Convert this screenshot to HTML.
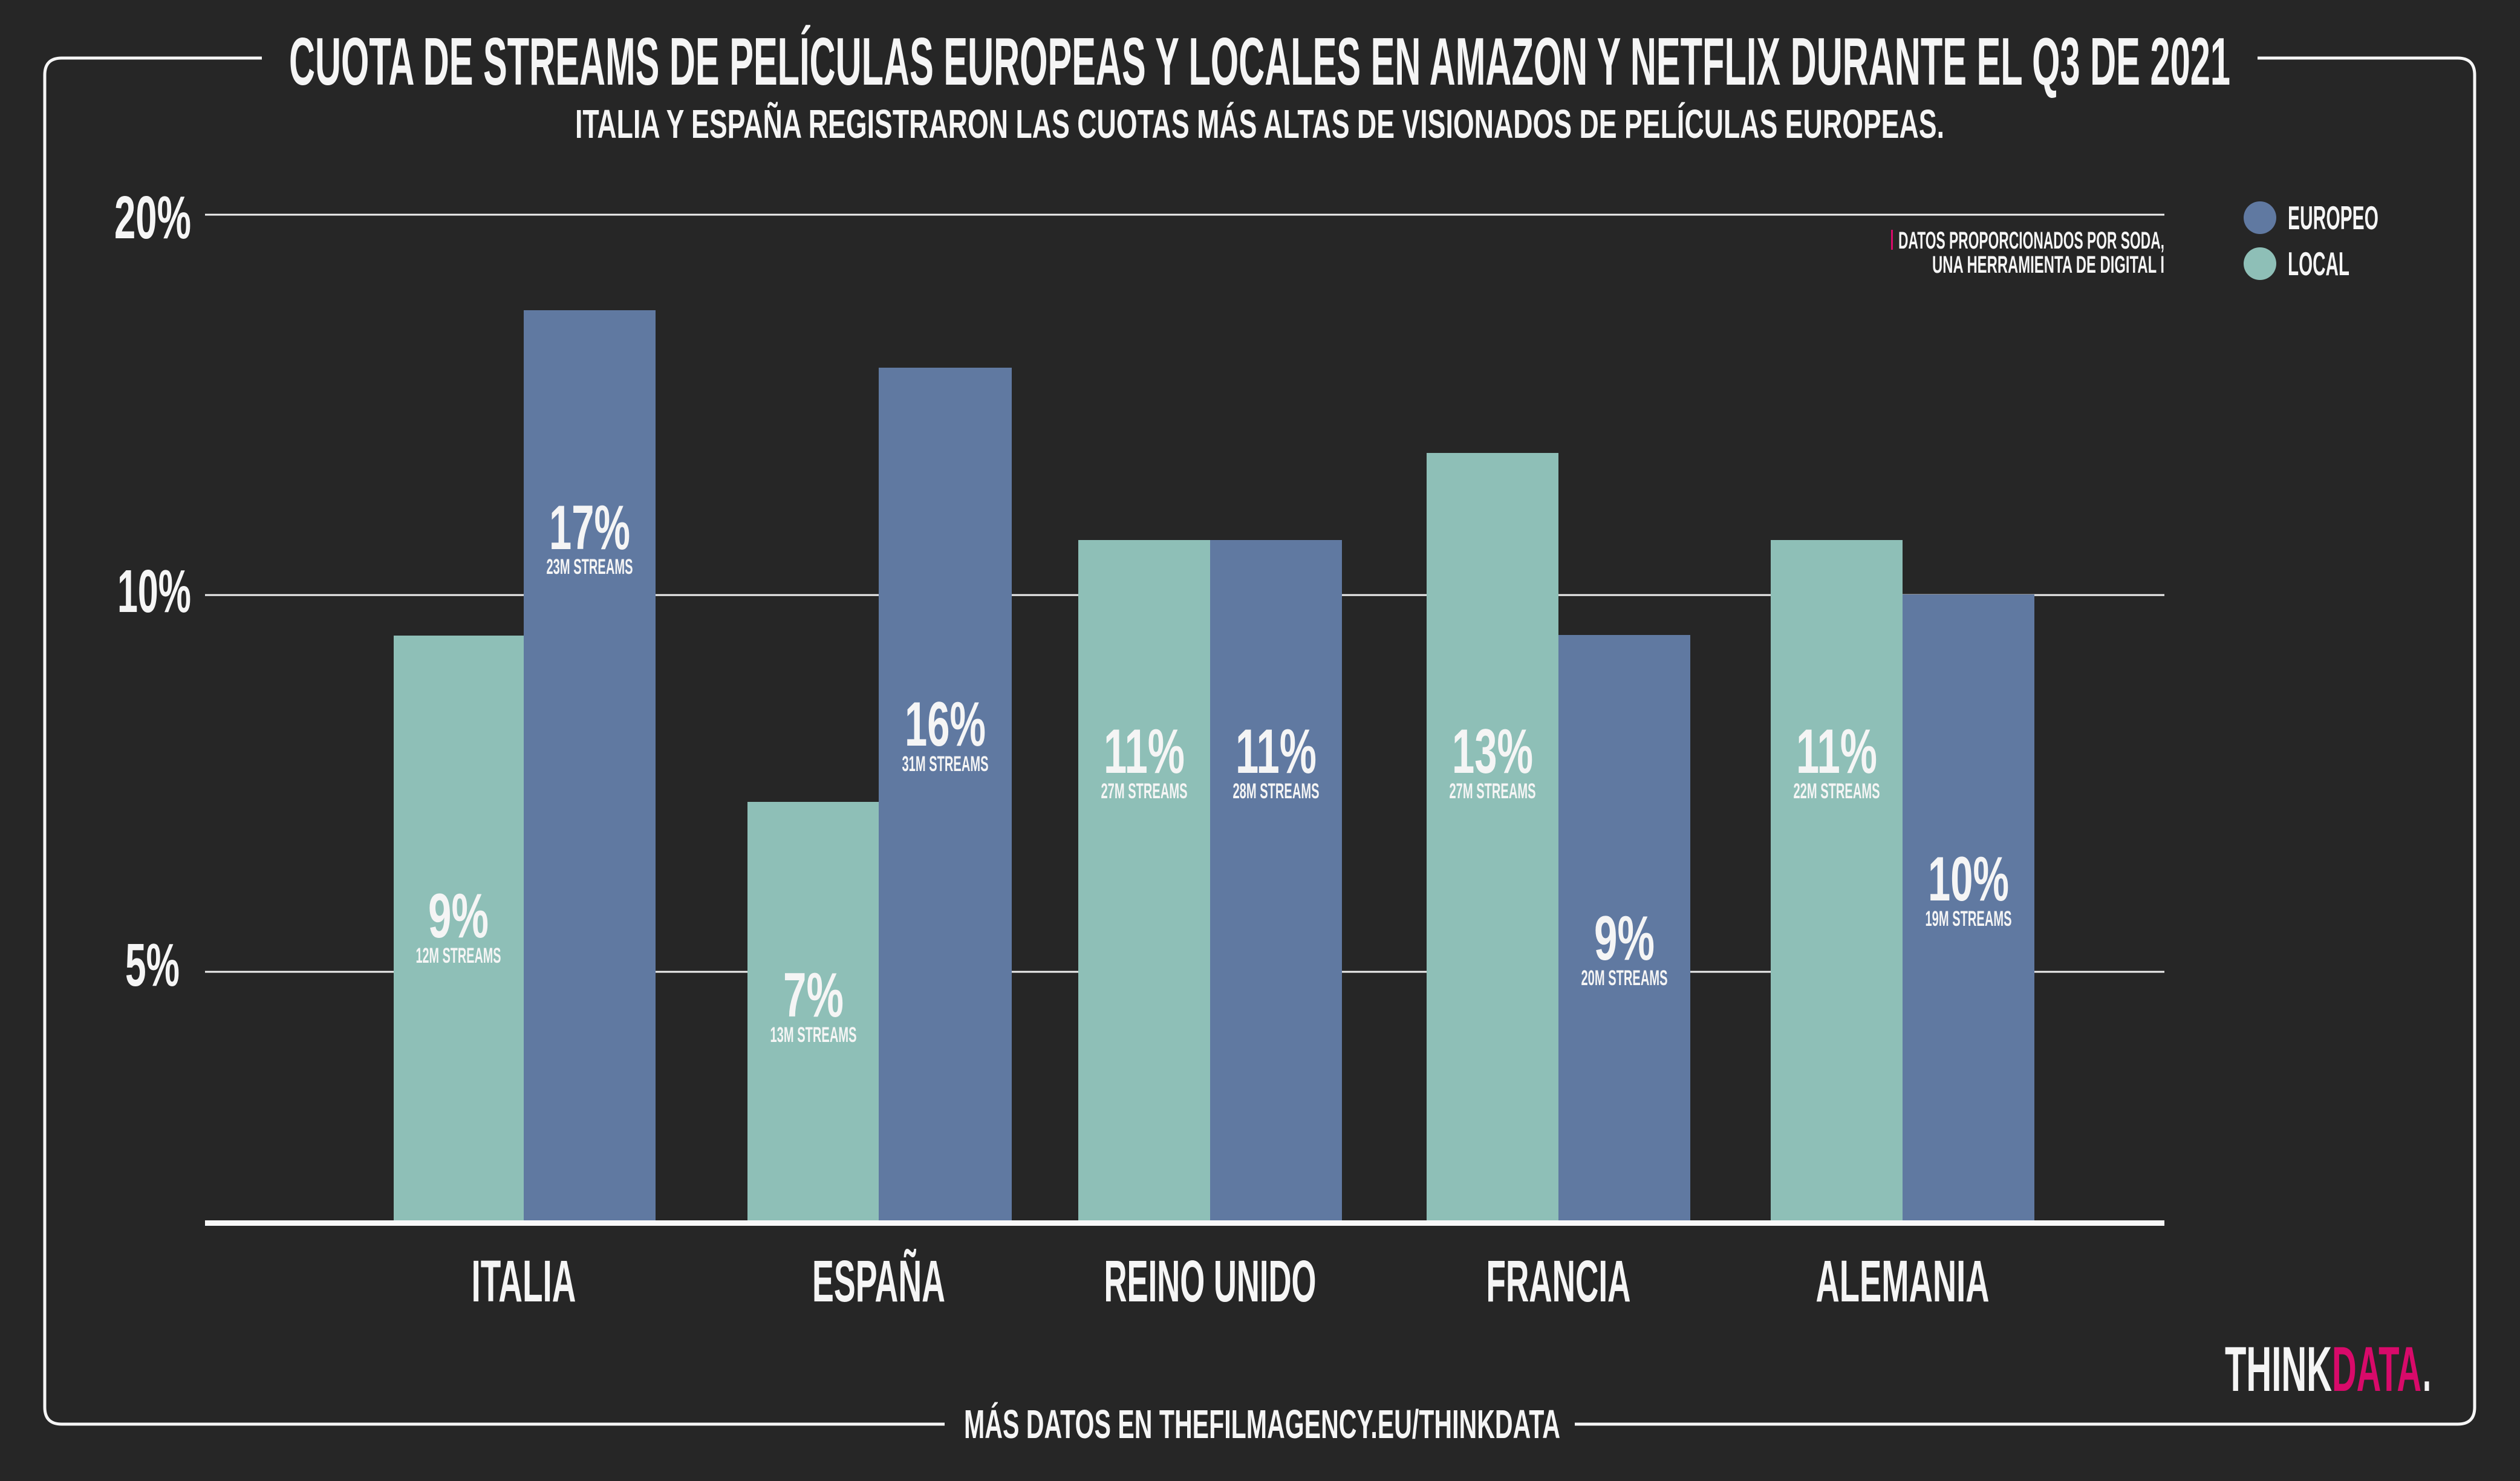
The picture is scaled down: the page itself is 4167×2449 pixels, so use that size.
<!DOCTYPE html>
<html><head><meta charset="utf-8"><style>
html,body{margin:0;padding:0;background:#262626;}
svg{display:block;}
text{font-family:"Liberation Sans Narrow","Liberation Sans",sans-serif;font-weight:bold;fill:#f5f5f5;}
</style></head><body>
<svg width="4167" height="2449" viewBox="0 0 4167 2449" xmlns="http://www.w3.org/2000/svg">
<rect width="4167" height="2449" fill="#262626"/>
<!-- frame -->
<path d="M433 96 H102 Q74 96 74 124 V2327 Q74 2355 102 2355 H1562 M2604 2355 H4064 Q4092 2355 4092 2327 V124 Q4092 96 4064 96 H3733" fill="none" stroke="#f5f5f5" stroke-width="5"/>
<!-- titles -->
<text x="478" y="140" font-size="111" textLength="3210" lengthAdjust="spacingAndGlyphs">CUOTA DE STREAMS DE PELÍCULAS EUROPEAS Y LOCALES EN AMAZON Y NETFLIX DURANTE EL Q3 DE 2021</text>
<text x="951" y="228" font-size="67" textLength="2264" lengthAdjust="spacingAndGlyphs">ITALIA Y ESPAÑA REGISTRARON LAS CUOTAS MÁS ALTAS DE VISIONADOS DE PELÍCULAS EUROPEAS.</text>
<text x="1594" y="2378" font-size="67" textLength="986" lengthAdjust="spacingAndGlyphs">MÁS DATOS EN THEFILMAGENCY.EU/THINKDATA</text>
<!-- gridlines -->
<g stroke="#f0f0f0" stroke-width="3">
<line x1="339" y1="355" x2="3579" y2="355"/>
<line x1="339" y1="984" x2="3579" y2="984"/>
<line x1="339" y1="1607" x2="3579" y2="1607"/>
</g>
<!-- y labels -->
<text x="189" y="394" font-size="100" textLength="127" lengthAdjust="spacingAndGlyphs">20%</text>
<text x="194" y="1012" font-size="100" textLength="122" lengthAdjust="spacingAndGlyphs">10%</text>
<text x="207" y="1630" font-size="100" textLength="90" lengthAdjust="spacingAndGlyphs">5%</text>
<!-- bars -->
<g>
<rect x="651" y="1051" width="215" height="972" fill="#8ebfb7"/>
<rect x="866" y="513" width="218" height="1510" fill="#6079a1"/>
<rect x="1236" y="1326" width="217" height="697" fill="#8ebfb7"/>
<rect x="1453" y="608" width="220" height="1415" fill="#6079a1"/>
<rect x="1783" y="893" width="218" height="1130" fill="#8ebfb7"/>
<rect x="2001" y="893" width="218" height="1130" fill="#6079a1"/>
<rect x="2359" y="749" width="218" height="1274" fill="#8ebfb7"/>
<rect x="2577" y="1050" width="218" height="973" fill="#6079a1"/>
<rect x="2928" y="893" width="218" height="1130" fill="#8ebfb7"/>
<rect x="3146" y="983" width="218" height="1040" fill="#6079a1"/>
</g>
<rect x="339" y="2018" width="3240" height="9" fill="#f8f8f8"/>
<!-- value labels -->
<g text-anchor="middle">
<text x="758" y="1550" font-size="104" textLength="100" lengthAdjust="spacingAndGlyphs">9%</text>
<text x="758" y="1592" font-size="35" textLength="141" lengthAdjust="spacingAndGlyphs">12M STREAMS</text>
<text x="975" y="908" font-size="104" textLength="134" lengthAdjust="spacingAndGlyphs">17%</text>
<text x="975" y="949" font-size="35" textLength="143" lengthAdjust="spacingAndGlyphs">23M STREAMS</text>
<text x="1345" y="1681" font-size="104" textLength="100" lengthAdjust="spacingAndGlyphs">7%</text>
<text x="1345" y="1723" font-size="35" textLength="143" lengthAdjust="spacingAndGlyphs">13M STREAMS</text>
<text x="1563" y="1233" font-size="104" textLength="134" lengthAdjust="spacingAndGlyphs">16%</text>
<text x="1563" y="1275" font-size="35" textLength="143" lengthAdjust="spacingAndGlyphs">31M STREAMS</text>
<text x="1892" y="1278" font-size="104" textLength="134" lengthAdjust="spacingAndGlyphs">11%</text>
<text x="1892" y="1320" font-size="35" textLength="143" lengthAdjust="spacingAndGlyphs">27M STREAMS</text>
<text x="2110" y="1278" font-size="104" textLength="134" lengthAdjust="spacingAndGlyphs">11%</text>
<text x="2110" y="1320" font-size="35" textLength="143" lengthAdjust="spacingAndGlyphs">28M STREAMS</text>
<text x="2468" y="1278" font-size="104" textLength="134" lengthAdjust="spacingAndGlyphs">13%</text>
<text x="2468" y="1320" font-size="35" textLength="143" lengthAdjust="spacingAndGlyphs">27M STREAMS</text>
<text x="2686" y="1587" font-size="104" textLength="100" lengthAdjust="spacingAndGlyphs">9%</text>
<text x="2686" y="1629" font-size="35" textLength="143" lengthAdjust="spacingAndGlyphs">20M STREAMS</text>
<text x="3037" y="1278" font-size="104" textLength="134" lengthAdjust="spacingAndGlyphs">11%</text>
<text x="3037" y="1320" font-size="35" textLength="143" lengthAdjust="spacingAndGlyphs">22M STREAMS</text>
<text x="3255" y="1489" font-size="104" textLength="134" lengthAdjust="spacingAndGlyphs">10%</text>
<text x="3255" y="1531" font-size="35" textLength="143" lengthAdjust="spacingAndGlyphs">19M STREAMS</text>
</g>
<!-- x labels -->
<g text-anchor="middle">
<text x="866" y="2152" font-size="97" textLength="173" lengthAdjust="spacingAndGlyphs">ITALIA</text>
<text x="1453" y="2152" font-size="97" textLength="220" lengthAdjust="spacingAndGlyphs">ESPAÑA</text>
<text x="2001" y="2152" font-size="97" textLength="351" lengthAdjust="spacingAndGlyphs">REINO UNIDO</text>
<text x="2577" y="2152" font-size="97" textLength="239" lengthAdjust="spacingAndGlyphs">FRANCIA</text>
<text x="3146" y="2152" font-size="97" textLength="287" lengthAdjust="spacingAndGlyphs">ALEMANIA</text>
</g>
<!-- note -->
<rect x="3127" y="380" width="3" height="33" fill="#d80a6a"/>
<text x="3139" y="411" font-size="40" textLength="440" lengthAdjust="spacingAndGlyphs">DATOS PROPORCIONADOS POR SODA,</text>
<text x="3195" y="451" font-size="40" textLength="384" lengthAdjust="spacingAndGlyphs">UNA HERRAMIENTA DE DIGITAL I</text>
<!-- legend -->
<ellipse cx="3737" cy="360" rx="27" ry="27" fill="#6079a1"/>
<ellipse cx="3737" cy="436" rx="27" ry="27" fill="#8ebfb7"/>
<text x="3783" y="379" font-size="55" textLength="150" lengthAdjust="spacingAndGlyphs">EUROPEO</text>
<text x="3783" y="455" font-size="55" textLength="102" lengthAdjust="spacingAndGlyphs">LOCAL</text>
<!-- logo -->
<text x="3679" y="2300" font-size="105" textLength="177" lengthAdjust="spacingAndGlyphs">THINK</text>
<text x="3856" y="2300" font-size="105" textLength="148" lengthAdjust="spacingAndGlyphs" style="fill:#d80a6a">DATA</text>
<text x="4006" y="2300" font-size="105" textLength="14" lengthAdjust="spacingAndGlyphs">.</text>
</svg>
</body></html>
